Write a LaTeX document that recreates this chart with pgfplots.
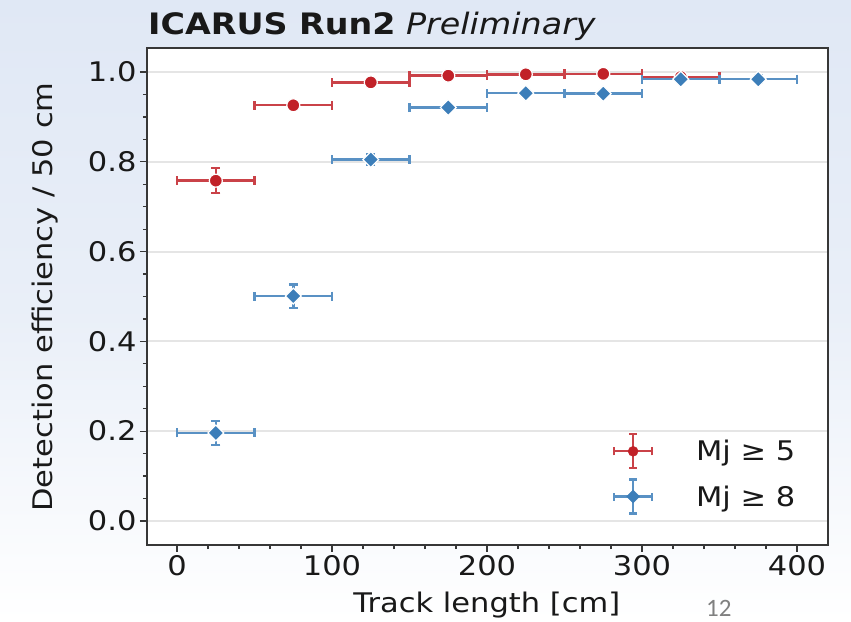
\documentclass[border=0pt]{standalone}
\usepackage{pgfplots}
\pgfplotsset{compat=1.18}
\usepackage{fontspec}
\setmainfont[FakeStretch=1.13]{DejaVu Sans}
\newfontfamily\pagefont{Carlito}
\definecolor{redc}{RGB}{193,33,40}
\definecolor{bluec}{RGB}{60,126,185}
\definecolor{bgblue}{RGB}{224,232,245}
\definecolor{axgray}{RGB}{55,55,55}
\definecolor{txt}{RGB}{25,25,25}
\pgfplotstableread{
x ex y ey
25 25 0.758 0.028
75 25 0.926 0.006
125 25 0.977 0.004
175 25 0.992 0.003
225 25 0.995 0.002
275 25 0.996 0.002
325 25 0.989 0.003
}\redtab
\pgfplotstableread{
x ex y ey
25 25 0.196 0.027
75 25 0.501 0.026
125 25 0.805 0.012
175 25 0.921 0.005
225 25 0.953 0.004
275 25 0.952 0.004
325 25 0.984 0.004
375 25 0.984 0.008
}\bluetab
\begin{document}
\begin{tikzpicture}[x=1pt,y=1pt]
\shade[top color=bgblue, bottom color=white, middle color=bgblue!70] (0,0) rectangle (851,621);
\useasboundingbox (0,0) rectangle (851,621);
\node[anchor=base west, inner sep=0pt, text=txt] at (148,586) {\fontsize{29.5}{32}\selectfont\textbf{ICARUS Run2} \textit{Preliminary}};
\node[anchor=base west, inner sep=0pt, text=black!50] at (706,5) {\pagefont\fontsize{25}{27}\selectfont 12};
\begin{axis}[
  at={(147pt,76pt)}, anchor=south west, scale only axis,
  width=681pt, height=497pt,
  xmin=-19.4, xmax=420, ymin=-0.0536, ymax=1.0536,
  axis background/.style={fill=white},
  axis line style={axgray, line width=1.6pt},
  tick align=outside, tick pos=left,
  major tick length=7pt, minor tick length=4pt,
  every tick/.style={axgray, line width=1.3pt},
  xtick={0,100,200,300,400}, minor x tick num=4,
  ytick={0,0.2,0.4,0.6,0.8,1.0}, minor y tick num=3,
  ymajorgrids, major grid style={gray!20, line width=2.2pt},
  /pgf/number format/assume math mode=true,
  tick label style={font=\fontsize{27}{30}\selectfont, text=txt},
  yticklabel style={/pgf/number format/.cd, fixed, fixed zerofill, precision=1},
  label style={font=\fontsize{27}{30}\selectfont, text=txt},
  xlabel={Track length [cm]}, ylabel={Detection efficiency / 50 cm},
  xlabel style={at={(axis description cs:0.499,-0.1207)}, anchor=center},
  ylabel style={at={(axis description cs:-0.1498,0.499)}, anchor=center},
  legend style={at={(axis description cs:0.684,0.143)}, anchor=west, draw=none, fill=none,
    font=\fontsize{27}{30}\selectfont, inner sep=0pt, row sep=9pt, text=txt},
  legend cell align=left,
]
\addplot[forget plot, only marks, mark=*, mark size=6.5pt, color=redc,
  mark options={draw=white, line width=1.2pt, fill=redc},
  error bars/.cd, x dir=both, x explicit, y dir=both, y explicit,
  error bar style={line width=2.4pt, redc!85!white},
  error mark options={rotate=90, mark size=4.5pt, line width=2.4pt, redc!85!white}]
  table[x=x, y=y, x error=ex, y error=ey] {\redtab};
\addplot[forget plot, only marks, mark=square*, mark size=5.6pt, color=bluec,
  mark options={rotate=45, draw=white, line width=1.2pt, fill=bluec},
  error bars/.cd, x dir=both, x explicit, y dir=both, y explicit,
  error bar style={line width=2.4pt, bluec!85!white},
  error mark options={rotate=90, mark size=4.5pt, line width=2.4pt, bluec!85!white}]
  table[x=x, y=y, x error=ex, y error=ey] {\bluetab};
\addlegendimage{legend image code/.code={
  \draw[redc!85!white, line width=2.2pt] (0pt,0pt) -- (38pt,0pt) (19pt,-17pt) -- (19pt,17pt)
    (0pt,-4pt) -- (0pt,4pt) (38pt,-4pt) -- (38pt,4pt)
    (15pt,-17pt) -- (23pt,-17pt) (15pt,17pt) -- (23pt,17pt);
  \fill[redc] (19pt,0pt) circle (5pt);
  \path[draw=none] (0pt,0pt) rectangle (80pt,1pt);
}}
\addlegendentry{Mj ≥ 5}
\addlegendimage{legend image code/.code={
  \draw[bluec!85!white, line width=2.2pt] (0pt,0pt) -- (38pt,0pt) (19pt,-17pt) -- (19pt,17pt)
    (0pt,-4pt) -- (0pt,4pt) (38pt,-4pt) -- (38pt,4pt)
    (15pt,-17pt) -- (23pt,-17pt) (15pt,17pt) -- (23pt,17pt);
  \fill[bluec] (19pt,6.5pt) -- (25.5pt,0pt) -- (19pt,-6.5pt) -- (12.5pt,0pt) -- cycle;
  \path[draw=none] (0pt,0pt) rectangle (80pt,1pt);
}}
\addlegendentry{Mj ≥ 8}
\end{axis}
\end{tikzpicture}
\end{document}
